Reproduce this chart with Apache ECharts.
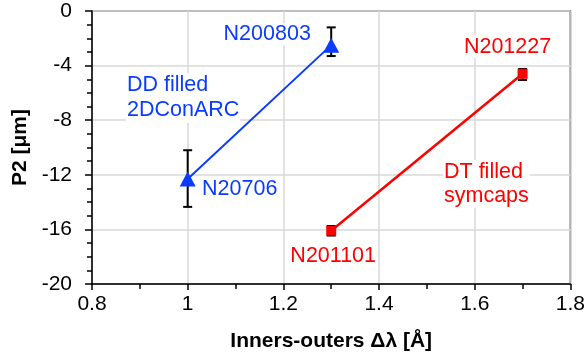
<!DOCTYPE html>
<html>
<head>
<meta charset="utf-8">
<script src="https://cdn.jsdelivr.net/npm/echarts@6/dist/echarts.min.js"></script>
<style>
  html, body { margin: 0; padding: 0; background: #fff; }
  #chart { width: 588px; height: 358px; }
</style>
</head>
<body>
<div id="chart"></div>
<script>
// data
const blueX = [1.0, 1.3];
const blueY = [-12.3, -2.5];
const blueLo = [-14.35, -3.3];
const blueHi = [-10.2, -1.2];
const blueNames = ['N20706', 'N200803'];

const redX = [1.3, 1.7];
const redY = [-16.1, -4.6];
const redLo = [-16.45, -5.05];
const redHi = [-15.75, -4.25];
const redNames = ['N201101', 'N201227'];

const BLUE = '#0a3cff';
const RED = '#ff0000';
const FONT = 'Liberation Sans, Arial, sans-serif';

// label offsets (px) relative to each point
const blueOffsets = [[52, 10], [-64, -11]];
const redOffsets = [[2, 25], [-15, -27]];

function pts(xs, ys, names, offs, color) {
    return xs.map((x, i) => ({
        value: [x, ys[i]],
        name: names[i],
        label: {
            show: true,
            position: 'inside',
            offset: offs[i],
            formatter: names[i],
            color: color,
            fontSize: 21.5,
            fontFamily: FONT,
            backgroundColor: '#fff',
            padding: [0, 1]
        }
    }));
}

function errData(xs, lo, hi) {
    return xs.map((x, i) => [x, lo[i], hi[i]]);
}

function renderErr(params, api) {
    const x = api.value(0);
    const lo = api.coord([x, api.value(1)]);
    const hi = api.coord([x, api.value(2)]);
    const w = 4.5;
    const st = { stroke: '#000', lineWidth: 2 };
    return {
        type: 'group',
        children: [
            { type: 'line', shape: { x1: lo[0], y1: lo[1], x2: hi[0], y2: hi[1] }, style: st },
            { type: 'line', shape: { x1: lo[0] - w, y1: lo[1], x2: lo[0] + w, y2: lo[1] }, style: st },
            { type: 'line', shape: { x1: hi[0] - w, y1: hi[1], x2: hi[0] + w, y2: hi[1] }, style: st }
        ]
    };
}

const myChart = echarts.init(document.getElementById('chart'));
myChart.setOption({
    animation: false,
    grid: {
        left: 92, right: 16, top: 11, bottom: 74,
        show: true, borderColor: '#404040', borderWidth: 1.5
    },
    xAxis: {
        type: 'value',
        min: 0.8, max: 1.8, interval: 0.2,
        name: 'Inners-outers \u0394\u03bb [\u00c5]',
        nameLocation: 'middle',
        nameGap: 47,
        nameTextStyle: { fontSize: 21, fontWeight: 'bold', color: '#000', fontFamily: FONT },
        axisLine: { onZero: false, lineStyle: { color: '#000', width: 1.5 } },
        axisTick: { length: 6, lineStyle: { color: '#000', width: 1.5 } },
        minorTick: { show: true, splitNumber: 2, length: 5, lineStyle: { color: '#000', width: 1.5 } },
        axisLabel: { fontSize: 21, color: '#000', margin: 10, fontFamily: FONT },
        splitLine: { show: true, lineStyle: { color: '#d9d9d9', width: 1.5 } }
    },
    yAxis: {
        type: 'value',
        min: -20, max: 0, interval: 4,
        name: 'P2 [\u03bcm]',
        nameLocation: 'middle',
        nameGap: 57,
        nameTextStyle: { fontSize: 21, fontWeight: 'bold', color: '#000', fontFamily: FONT },
        axisLine: { onZero: false, lineStyle: { color: '#000', width: 1.5 } },
        axisTick: { length: 7, lineStyle: { color: '#000', width: 1.5 } },
        minorTick: { show: true, splitNumber: 4, length: 5, lineStyle: { color: '#000', width: 1.5 } },
        axisLabel: { fontSize: 21, color: '#000', margin: 20, fontFamily: FONT },
        splitLine: { show: true, lineStyle: { color: '#d9d9d9', width: 1.5 } }
    },
    graphic: [
        {
            type: 'text', left: 126, top: 73, z: 10,
            style: {
                text: 'DD filled\n2DConARC', fill: BLUE, fontSize: 21.5, lineHeight: 25,
                fontFamily: FONT, backgroundColor: '#fff', padding: [0, 1]
            }
        },
        {
            type: 'text', left: 443, top: 160, z: 10,
            style: {
                text: 'DT filled\nsymcaps', fill: RED, fontSize: 21.5, lineHeight: 24,
                fontFamily: FONT, backgroundColor: '#fff', padding: [0, 1]
            }
        }
    ],
    series: [
        {
            type: 'custom', name: 'blueErr', z: 1,
            renderItem: renderErr, data: errData(blueX, blueLo, blueHi)
        },
        {
            type: 'custom', name: 'redErr', z: 1,
            renderItem: renderErr, data: errData(redX, redLo, redHi)
        },
        {
            type: 'line', name: 'DD', z: 3,
            data: pts(blueX, blueY, blueNames, blueOffsets, BLUE),
            symbol: 'triangle', symbolSize: [16, 15], showAllSymbol: true,
            lineStyle: { color: BLUE, width: 2 },
            itemStyle: { color: BLUE }
        },
        {
            type: 'line', name: 'DT', z: 3,
            data: pts(redX, redY, redNames, redOffsets, RED),
            symbol: 'rect', symbolSize: 10, showAllSymbol: true,
            lineStyle: { color: RED, width: 2.5 },
            itemStyle: { color: RED }
        }
    ]
});
</script>
</body>
</html>
